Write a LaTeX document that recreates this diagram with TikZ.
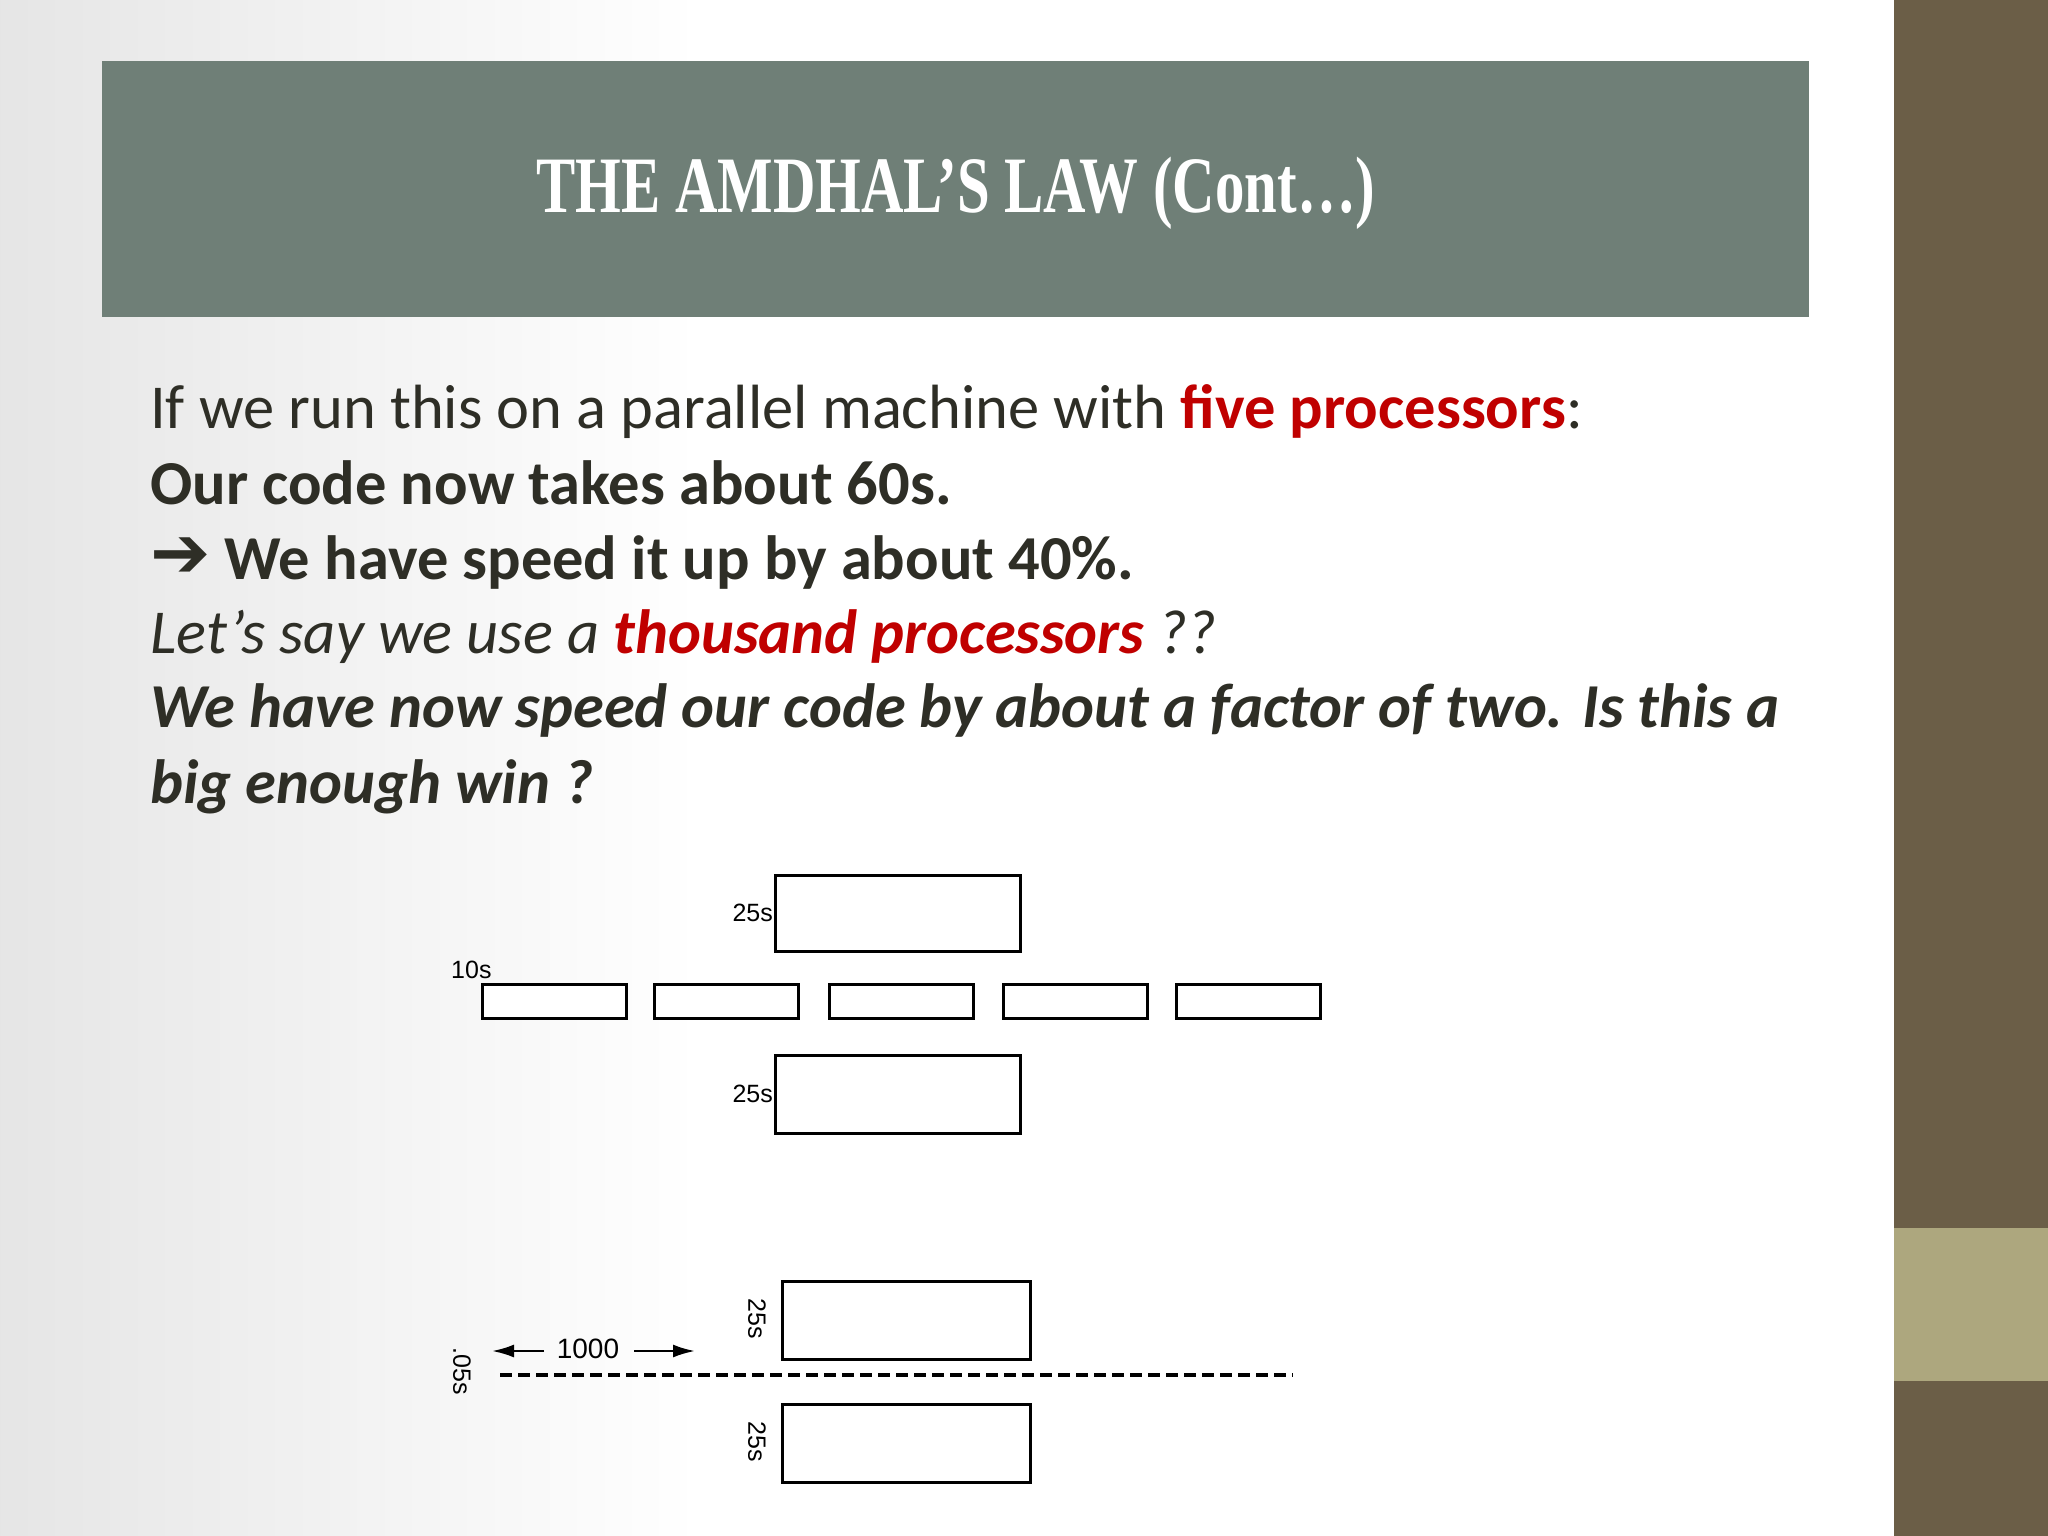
\documentclass[tikz,border=0pt]{standalone}
\usepackage{fontspec}
\setmainfont{Carlito}
\newfontfamily\ttlfont{Liberation Serif}
\newfontfamily\dfont{Liberation Sans}
\usetikzlibrary{arrows.meta}
\definecolor{bandc}{HTML}{6F7F77}
\definecolor{stripc}{HTML}{6B5E47}
\definecolor{lightc}{HTML}{ADA77E}
\definecolor{txt}{HTML}{2E2E26}
\definecolor{redc}{HTML}{C00000}
\tikzset{
 bx/.style={draw=black,line width=2.6pt,fill=white,inner sep=0},
 lbl/.style={font=\dfont\fontsize{25}{27}\selectfont,inner sep=1pt},
 body/.style={anchor=base west,inner sep=0,font=\fontsize{62.5}{70}\selectfont,text=txt}
}
\begin{document}
\begin{tikzpicture}[x=1pt,y=-1pt]
\useasboundingbox (0,0) rectangle (2048,1536);
\shade[left color=black!10,right color=white] (0,0) rectangle (700,1536);
\fill[white] (700,0) rectangle (1894,1536);
\fill[stripc] (1894,0) rectangle (2048,1536);
\fill[lightc] (1894,1228) rectangle (2048,1381);
\node[fill=bandc,minimum width=1707pt,minimum height=256pt,anchor=north west,inner sep=0] (band) at (102,61) {};
\node[text=white,font=\ttlfont\bfseries\fontsize{80}{90}\selectfont] (title) at (956,193) {\scalebox{0.735}[1]{THE AMDHAL’S LAW (Cont…)}};
\node[body] (l1) at (150,428) {If we run this on a parallel machine with \textcolor{redc}{\textbf{five processors}}:};
\node[body,font=\bfseries\fontsize{62.5}{70}\selectfont] (l2) at (150,504) {Our code now takes about 60s.};
\node[body,font=\bfseries\fontsize{62.5}{70}\selectfont] (l3) at (150,579) {\raisebox{2pt}{\fontspec{DejaVu Sans}\fontsize{72}{72}\selectfont\bfseries➔}\hspace{14pt}We have speed it up by about 40\%.};
\node[body,font=\itshape\fontsize{62.5}{70}\selectfont] (l4) at (150,653) {Let’s say we use a \textcolor{redc}{\textbf{thousand processors}} ??};
\node[body,font=\bfseries\itshape\fontsize{62.5}{70}\selectfont] (l5) at (150,727) {We have now speed our code by about a factor of two. Is this a};
\node[body,font=\bfseries\itshape\fontsize{62.5}{70}\selectfont] (l6) at (150,803) {big enough win ?};
% five-processor diagram
\node[bx,minimum width=245pt,minimum height=76pt,anchor=north west] (t1) at (774,874) {};
\node[lbl,anchor=east] (t1l) at (t1.west) {25s};
\foreach \i/\x in {1/481,2/653,3/828,4/1002,5/1175}{
 \node[bx,minimum width=144pt,minimum height=34pt,anchor=north west] (p\i) at (\x,983) {};}
\node[lbl,anchor=south west] (tl) at (450,980) {10s};
\node[bx,minimum width=245pt,minimum height=78pt,anchor=north west] (t2) at (774,1054) {};
\node[lbl,anchor=east] (t2l) at (t2.west) {25s};
% thousand-processor diagram
\node[bx,minimum width=248pt,minimum height=78pt,anchor=north west] (b1) at (781,1280) {};
\node[lbl,rotate=-90] (b1l) at (757,1319) {25s};
\node[bx,minimum width=248pt,minimum height=78pt,anchor=north west] (b2) at (781,1403) {};
\node[lbl,rotate=-90] (b2l) at (757,1442) {25s};
\node[lbl,rotate=-90] (ds) at (462,1371) {.05s};
\coordinate (d1) at (500,1375);
\coordinate (d2) at (1293,1375);
\draw[line width=3.4pt,dash pattern=on 12pt off 6pt] (d1) -- (d2);
\node[lbl,font=\dfont\fontsize{28}{30}\selectfont] (k) at (588,1349) {1000};
\coordinate (a1) at (492,1351);
\coordinate (a2) at (544,1351);
\coordinate (a3) at (634,1351);
\coordinate (a4) at (695,1351);
\draw[line width=2.4pt,-{Latex[length=22pt,width=13pt]}] (a2) -- (a1);
\draw[line width=2.4pt,-{Latex[length=22pt,width=13pt]}] (a3) -- (a4);
\end{tikzpicture}
\end{document}
